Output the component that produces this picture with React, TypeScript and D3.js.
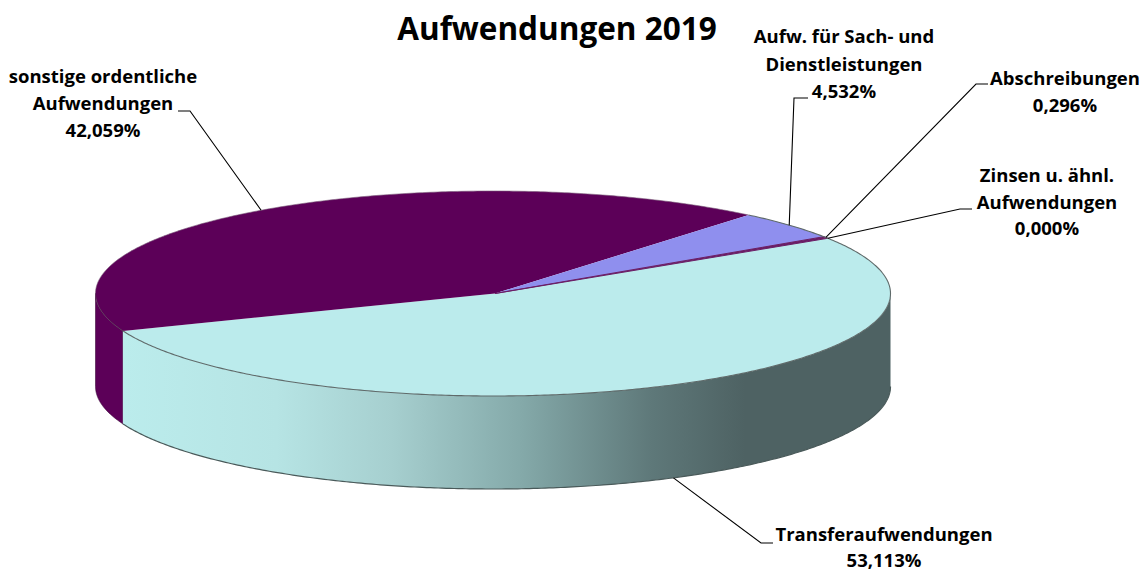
import React from "react";
import * as d3 from "d3";

const W = 1148, H = 572;
const FONT = "'Open Sans', Lato, sans-serif";

const titleText = "Aufwendungen 2019";
const categories = [
  "Transferaufwendungen",
  "sonstige ordentliche Aufwendungen",
  "Aufw. für Sach- und Dienstleistungen",
  "Abschreibungen",
  "Zinsen u. ähnl. Aufwendungen",
];
const values = [53.113, 42.059, 4.532, 0.296, 0.0];
const percentLabels = ["53,113%", "42,059%", "4,532%", "0,296%", "0,000%"];
const labelLines = [
  ["Transferaufwendungen"],
  ["sonstige ordentliche", "Aufwendungen"],
  ["Aufw. für Sach- und", "Dienstleistungen"],
  ["Abschreibungen"],
  ["Zinsen u. ähnl.", "Aufwendungen"],
];
const topColors = ["#BBEBEC", "#5C0058", "#8F8FEE", "#6A1E66", "#6A1E66"];

const gradientStops: [number, string][] = [
  [0, "#BBECEC"],
  [0.2, "#B6E4E4"],
  [0.35, "#A6CFCF"],
  [0.52, "#84A9A9"],
  [0.69, "#5E7879"],
  [0.81, "#4E6263"],
  [1, "#4E6263"],
];

const cx = 493, cy = 293.5, rx = 397.5, ry = 102.5, depth = 93;
const startDeg = 57.4;

const labelLayout = [
  { x: 884, y: 541, step: 26, from: [773, 543], elbow: [761, 543], wall: true },
  { x: 103, y: 83, step: 27.2, from: [178, 111], elbow: [190, 111], wall: false },
  { x: 844, y: 43, step: 27.5, from: [808, 98], elbow: [794, 98], wall: false },
  { x: 1065, y: 85, step: 27, from: [988, 84], elbow: [976, 84], wall: false },
  { x: 1047, y: 182, step: 26.6, from: [972, 209], elbow: [960, 209], wall: false },
];

const rad = (d: number) => (d * Math.PI) / 180;
const px = (a: number) => cx + rx * Math.sin(a);
const py = (a: number) => cy - ry * Math.cos(a);

const line = d3.line<[number, number]>().x((d) => d[0]).y((d) => d[1]);

function arcPts(a0: number, a1: number, dy = 0): [number, number][] {
  const n = Math.max(2, Math.ceil(Math.abs(a1 - a0) / 0.01));
  return d3.range(n + 1).map((i) => {
    const a = a0 + ((a1 - a0) * i) / n;
    return [px(a), py(a) + dy] as [number, number];
  });
}

export default function App() {
  const slices = d3
    .pie<number>()
    .sort(null)
    .startAngle(rad(startDeg))
    .endAngle(rad(startDeg + 360))(values);

  const transfer = slices[0];
  const other = slices[1];
  const rightEdge = Math.PI / 2;
  const leftEdge = (3 * Math.PI) / 2;

  const wallTransfer = [
    ...arcPts(rightEdge, transfer.endAngle),
    ...arcPts(transfer.endAngle, rightEdge, depth),
  ];
  const wallOther = [
    ...arcPts(transfer.endAngle, leftEdge),
    ...arcPts(leftEdge, transfer.endAngle, depth),
  ];

  return (
    <svg
      width={W}
      height={H}
      viewBox={`0 0 ${W} ${H}`}
      style={{ position: "absolute", left: 0, top: 0, display: "block", background: "#fff" }}
    >
      <defs>
        <linearGradient
          id="wallGrad"
          gradientUnits="userSpaceOnUse"
          x1={px(transfer.endAngle)}
          x2={px(rightEdge)}
          y1={0}
          y2={0}
        >
          {gradientStops.map(([o, c]) => (
            <stop key={o} offset={o} stopColor={c} />
          ))}
        </linearGradient>
      </defs>

      <path d={line(wallOther)! + "Z"} fill={topColors[1]} stroke="#3c0a3a" strokeWidth={0.6} />
      <path d={line(wallTransfer)! + "Z"} fill="url(#wallGrad)" />
      <path
        d={line(arcPts(rightEdge, transfer.endAngle, depth))!}
        fill="none"
        stroke="#4a5a5a"
        strokeWidth={1.2}
      />

      {slices.map((s, i) => {
        const pts: [number, number][] = [[cx + 2, cy], ...arcPts(s.startAngle, s.endAngle)];
        return (
          <path
            key={categories[i]}
            d={line(pts)! + "Z"}
            fill={topColors[i]}
            stroke={i === 3 ? topColors[3] : "none"}
            strokeWidth={i === 3 ? 1 : 0}
          />
        );
      })}
      <path
        d={line(arcPts(slices[2].startAngle - Math.PI * 2, transfer.endAngle))!}
        fill="none"
        stroke="#5f6a6a"
        strokeWidth={1.1}
      />
      <path
        d={line(arcPts(leftEdge, transfer.endAngle))!}
        fill="none"
        stroke="#3c0a3a"
        strokeWidth={0.8}
      />
      <path
        d={line(arcPts(other.startAngle + 0.001, slices[2].startAngle))!}
        fill="none"
        stroke="#7a5a78"
        strokeWidth={0.6}
      />

      {slices.map((s, i) => {
        const L = labelLayout[i];
        const mid = (s.startAngle + s.endAngle) / 2;
        const anchor: [number, number] = [px(mid), py(mid) + (L.wall ? depth : 0)];
        return (
          <path
            key={"leader" + i}
            d={line([L.from as [number, number], L.elbow as [number, number], anchor])!}
            fill="none"
            stroke="#000"
            strokeWidth={1.1}
          />
        );
      })}

      <text
        x={557}
        y={40}
        textAnchor="middle"
        fontFamily={FONT}
        fontWeight={700}
        fontSize={31.5}
        fill="#000"
      >
        {titleText}
      </text>

      {labelLayout.map((L, i) => (
        <text
          key={"label" + i}
          textAnchor="middle"
          fontFamily={FONT}
          fontWeight={700}
          fontSize={18.5}
          fill="#000"
        >
          {[...labelLines[i], percentLabels[i]].map((t, j) => (
            <tspan key={j} x={L.x} y={L.y + j * L.step}>
              {t}
            </tspan>
          ))}
        </text>
      ))}
    </svg>
  );
}
